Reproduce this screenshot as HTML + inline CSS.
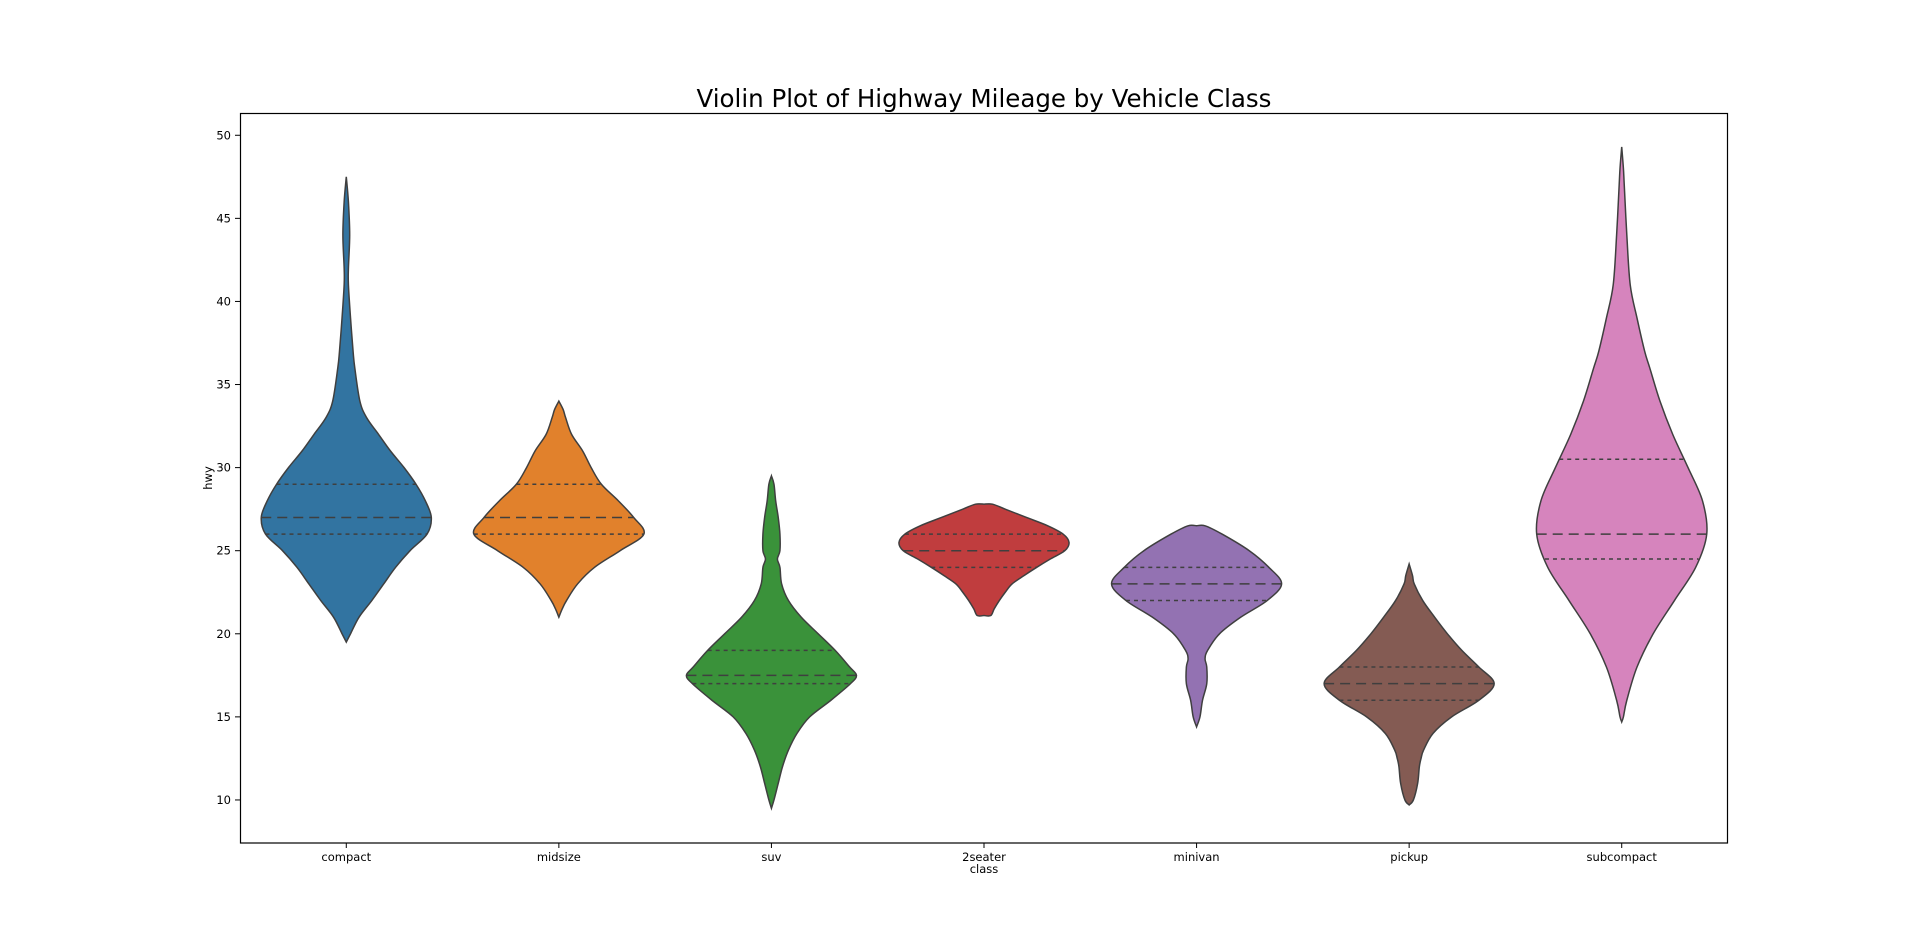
<!DOCTYPE html>
<html><head><meta charset="utf-8"><style>
body{margin:0;background:#fff;}
svg text{font-family:"DejaVu Sans","Liberation Sans",sans-serif;fill:#000;}
</style></head><body>
<svg id="chart" width="1920" height="947" xmlns="http://www.w3.org/2000/svg">
<rect width="1920" height="947" fill="#fff"/>
<text x="984" y="107" font-size="24.5" text-anchor="middle">Violin Plot of Highway Mileage by Vehicle Class</text>
<g id="plot"></g>
<rect x="240.5" y="113.5" width="1487" height="729.5" fill="none" stroke="#000" stroke-width="1.2"/>
<text x="984" y="873" font-size="11.5" text-anchor="middle">class</text>
<text x="0" y="0" font-size="11.5" text-anchor="middle" transform="translate(212,478) rotate(-90)">hwy</text>
</svg>
<script>
const categories=["compact","midsize","suv","2seater","minivan","pickup","subcompact"];
const colors=["#3274a1","#e1812c","#3a923a","#c03d3e","#9372b2","#845b53","#d684bd"];
const yTicks=[10,15,20,25,30,35,40,45,50];
const profileVals=[
[47.5,46,44,42,41,39,37,36,34,33,32,31,30,29,28,27,26,25,24,23,22,21,20,19.5],
[34,33.5,33,32,31,30,29,28,27,26,25,24,23,22,21.5,21],
[29.5,29,28,27,26,25,24.5,24,23,22,21,20,19,18,17.5,17,16,15,14,13,12,11,10,9.5],
[27.8,27.8,27.5,27,26.5,26,25.5,25,24.5,24,23.5,23,22.5,22,21.5,21.1,21.1],
[26.5,26.5,26,25,24,23,22,21,20,19,18.5,18,17,16,15,14.4],
[24.2,23.5,23,22,21,20,19,18,17,16,15,14,13,12.5,12,11,10,9.7],
[49.3,48,47,44,41,39,37,36,34,32,30,28,26,24,22,20,18,16,15,14.7]];
const profileW=[
[0,0.025,0.04,0.025,0.025,0.05,0.08,0.1,0.16,0.24,0.38,0.52,0.68,0.82,0.93,1.0,0.95,0.75,0.58,0.44,0.3,0.15,0.05,0],
[0,0.05,0.08,0.15,0.28,0.38,0.5,0.7,0.88,1.0,0.72,0.42,0.22,0.09,0.04,0],
[0,0.03,0.05,0.08,0.1,0.1,0.07,0.1,0.12,0.2,0.35,0.55,0.75,0.92,1.0,0.93,0.7,0.45,0.3,0.2,0.13,0.08,0.03,0],
[0,0.1,0.25,0.5,0.75,0.93,1.0,0.95,0.78,0.62,0.47,0.33,0.25,0.18,0.12,0.08,0],
[0,0.1,0.3,0.62,0.85,1.0,0.83,0.52,0.27,0.13,0.1,0.12,0.12,0.07,0.04,0],
[0,0.04,0.06,0.16,0.3,0.45,0.62,0.82,1.0,0.82,0.5,0.28,0.17,0.14,0.12,0.1,0.05,0],
[0,0.02,0.03,0.06,0.1,0.18,0.27,0.33,0.45,0.6,0.78,0.95,1.0,0.87,0.62,0.37,0.18,0.06,0.02,0]];
const q1=[26,26,17,24,22,16,24.5];
const med=[27,27,17.5,25,23,17,26];
const q3=[29,29,19,26,24,18,30.5];

const L=240,R=1728,T=114,B=843,ymin=7.41,ymax=51.28;
const band=(R-L)/categories.length;
const xS=i=>L+band*(i+0.5);
const yS=v=>B-(v-ymin)/(ymax-ymin)*(B-T);
const halfMax=band*0.4;
const NS="http://www.w3.org/2000/svg";
const g=document.getElementById('plot');
function mk(t,a){const e=document.createElementNS(NS,t);for(const k in a)e.setAttribute(k,a[k]);return e;}
function widthAt(i,v){const vs=profileVals[i],ws=profileW[i];
 for(let k=0;k<vs.length-1;k++){if(v<=vs[k]&&v>=vs[k+1]){const t=vs[k]===vs[k+1]?0:(vs[k]-v)/(vs[k]-vs[k+1]);return ws[k]+(ws[k+1]-ws[k])*t;}}return 0;}
function smooth(pts){let d=`M${pts[0][0]},${pts[0][1]}`;
 for(let k=0;k<pts.length-1;k++){const p0=pts[k-1]||pts[k],p1=pts[k],p2=pts[k+1],p3=pts[k+2]||p2;
  const c1=[p1[0]+(p2[0]-p0[0])/6,p1[1]+(p2[1]-p0[1])/6],c2=[p2[0]-(p3[0]-p1[0])/6,p2[1]-(p3[1]-p1[1])/6];
  d+=`C${c1[0]},${c1[1]} ${c2[0]},${c2[1]} ${p2[0]},${p2[1]}`;}return d;}
categories.forEach((c,i)=>{
 const cx=xS(i);const vs=profileVals[i],ws=profileW[i];
 const right=vs.map((v,k)=>[cx+ws[k]*halfMax,yS(v)]);
 const left=vs.map((v,k)=>[cx-ws[k]*halfMax,yS(v)]).reverse();
 let d=smooth(right)+smooth(left).replace(/^M/,'L')+'Z';
 const p=mk('path',{d:d,fill:colors[i],stroke:'#3f3f3f','stroke-width':1.5});
 
 
 g.appendChild(p);
 [[q1[i],'4,4','q1'],[med[i],'10,6','median'],[q3[i],'4,4','q3']].forEach(([v,da,n])=>{
  const w=widthAt(i,v)*halfMax;
  const ln=mk('line',{x1:cx-w,x2:cx+w,y1:yS(v),y2:yS(v),stroke:'#3f3f3f','stroke-width':1.5,'stroke-dasharray':da});
  
  
  g.appendChild(ln);});
 const tk=mk('line',{x1:cx,x2:cx,y1:B,y2:B+5,stroke:'#000'});
 
 
 g.appendChild(tk);
 const tl=mk('text',{x:cx,y:B+18,'font-size':11.5,'text-anchor':'middle'});tl.textContent=c;
 
 
 g.appendChild(tl);
});
yTicks.forEach(v=>{
 const tk=mk('line',{x1:L-5,x2:L,y1:yS(v),y2:yS(v),stroke:'#000'});
 
 
 g.appendChild(tk);
 const tl=mk('text',{x:L-9,y:yS(v)+4,'font-size':11.5,'text-anchor':'end'});tl.textContent=v;
 
 
 g.appendChild(tl);
});
</script>
</body></html>
